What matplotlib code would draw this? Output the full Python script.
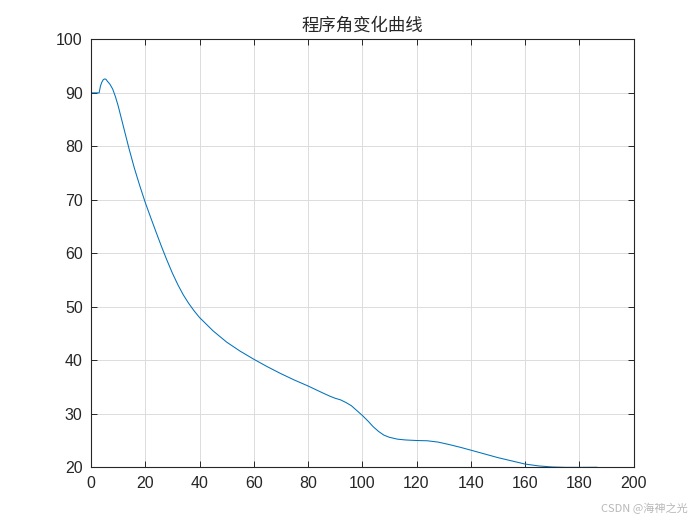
import matplotlib
matplotlib.use("Agg")
import matplotlib.pyplot as plt

plt.rcParams['font.family'] = ['Liberation Sans', 'Noto Sans CJK SC', 'DejaVu Sans']

# program angle curve
time_s = [0, 3, 3.5, 4, 4.5, 5, 5.5, 6, 7, 8, 9, 10, 12, 14, 16, 18, 20, 22, 24,
          26, 28, 30, 32, 34, 36, 38, 40, 45, 50, 55, 60, 65, 70, 75, 80, 85, 88,
          90, 92, 94, 96, 98, 100, 102, 104, 106, 108, 110, 113, 116, 120, 124,
          128, 132, 136, 140, 145, 150, 155, 160, 165, 170, 175, 180, 186.5]
angle_deg = [90, 90, 91.3, 92.0, 92.45, 92.6, 92.55, 92.2, 91.6, 90.7, 89.3, 87.6,
             83.6, 79.6, 75.9, 72.6, 69.5, 66.7, 63.95, 61.25, 58.7, 56.3, 54.15,
             52.25, 50.65, 49.25, 48.0, 45.5, 43.4, 41.7, 40.2, 38.8, 37.5, 36.3,
             35.2, 34.0, 33.3, 32.9, 32.6, 32.1, 31.5, 30.6, 29.7, 28.7, 27.6, 26.7,
             26.0, 25.6, 25.25, 25.1, 25.0, 24.95, 24.7, 24.25, 23.75, 23.2, 22.5,
             21.8, 21.2, 20.6, 20.25, 20.05, 19.98, 19.98, 20.0]

x_ticks = [0, 20, 40, 60, 80, 100, 120, 140, 160, 180, 200]
y_ticks = [20, 30, 40, 50, 60, 70, 80, 90, 100]
title_text = '程序角变化曲线'
watermark = 'CSDN @海神之光'

fig = plt.figure(figsize=(7, 5.25), dpi=100)
ax = fig.add_axes([0.13, 0.11, 0.775, 0.815])
ax.plot(time_s, angle_deg, color='#0072BD', linewidth=0.75)
ax.set_xlim(0, 200)
ax.set_ylim(20, 100)
ax.set_xticks(x_ticks)
ax.set_yticks(y_ticks)
ax.grid(True, color='#dcdcdc', linewidth=0.7)
ax.set_axisbelow(True)
for s in ax.spines.values():
    s.set_color('#262626')
    s.set_linewidth(0.8)
ax.tick_params(direction='in', length=4, width=0.7, color='#262626',
               top=True, right=True, labelsize=11.5, labelcolor='#262626', pad=6)
ax.set_title(title_text, family=['Noto Sans CJK SC', 'DejaVu Sans'],
             fontsize=12.5, color='#262626', pad=6)
fig.text(0.983, 0.032, watermark, ha='right', va='center', fontsize=8,
         color='#b8b8b8', family=['Noto Sans CJK SC', 'DejaVu Sans'])
fig.savefig('out.png', dpi=100)
